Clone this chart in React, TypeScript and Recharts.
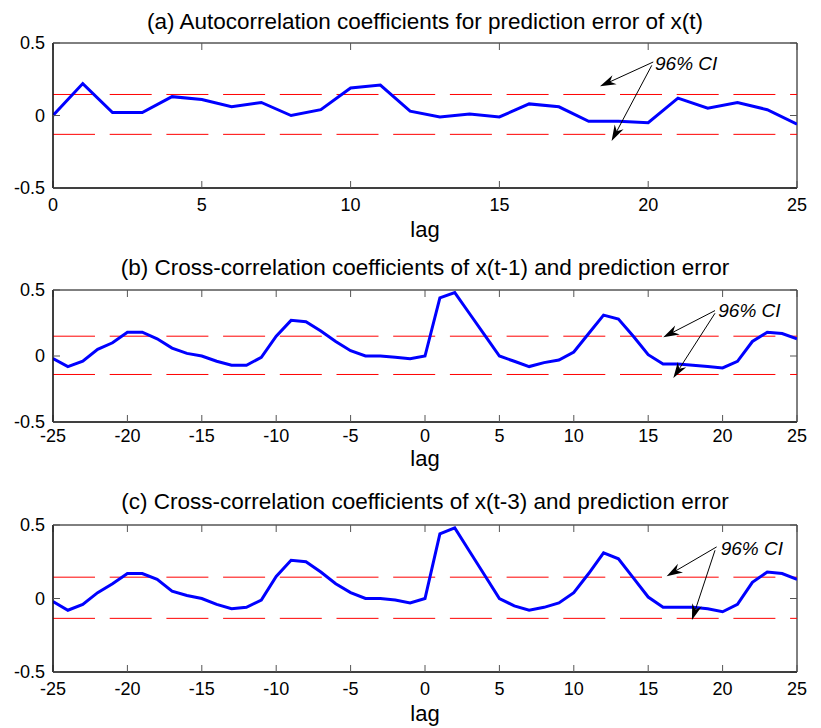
import { LineChart, Line, XAxis, YAxis, ReferenceLine, ReferenceDot, ReferenceArea } from "recharts";

// lags
const lagsA = [0, 1, 2, 3, 4, 5, 6, 7, 8, 9, 10, 11, 12, 13, 14, 15, 16, 17, 18, 19, 20, 21, 22, 23, 24, 25];
const lagsBC = [
  -25, -24, -23, -22, -21, -20, -19, -18, -17, -16, -15, -14, -13, -12, -11, -10, -9, -8, -7, -6, -5, -4, -3, -2, -1,
  0, 1, 2, 3, 4, 5, 6, 7, 8, 9, 10, 11, 12, 13, 14, 15, 16, 17, 18, 19, 20, 21, 22, 23, 24, 25,
];

// (a) autocorrelation of prediction error
const acfA = [
  0, 0.22, 0.02, 0.02, 0.13, 0.11, 0.06, 0.09, 0, 0.04, 0.19, 0.21, 0.03, -0.01, 0.01, -0.01, 0.08, 0.06, -0.04, -0.04,
  -0.05, 0.12, 0.05, 0.09, 0.04, -0.06,
];
// (b) cross-correlation x(t-1) vs error
const ccfB = [
  -0.02, -0.08, -0.04, 0.05, 0.1, 0.18, 0.18, 0.13, 0.06, 0.02, 0, -0.04, -0.07, -0.07, -0.01, 0.15, 0.27, 0.26, 0.19,
  0.11, 0.04, 0, 0, -0.01, -0.02, 0, 0.44, 0.48, 0.32, 0.16, 0, -0.04, -0.08, -0.05, -0.03, 0.03, 0.17, 0.31, 0.28, 0.15,
  0.01, -0.06, -0.06, -0.07, -0.08, -0.09, -0.04, 0.11, 0.18, 0.17, 0.13,
];
// (c) cross-correlation x(t-3) vs error
const ccfC = [
  -0.02, -0.08, -0.04, 0.04, 0.1, 0.17, 0.17, 0.13, 0.05, 0.02, 0, -0.04, -0.07, -0.06, -0.01, 0.15, 0.26, 0.25, 0.18,
  0.1, 0.04, 0, 0, -0.01, -0.03, 0, 0.44, 0.48, 0.32, 0.16, 0, -0.05, -0.08, -0.06, -0.03, 0.04, 0.17, 0.31, 0.27, 0.14,
  0.01, -0.06, -0.06, -0.06, -0.07, -0.09, -0.04, 0.11, 0.18, 0.17, 0.13,
];

// confidence bounds [upper, lower]
const ciA = [0.145, -0.13];
const ciB = [0.15, -0.14];
const ciC = [0.145, -0.135];

const xTicksA = [0, 5, 10, 15, 20, 25];
const xTicksBC = [-25, -20, -15, -10, -5, 0, 5, 10, 15, 20, 25];
const yTicks = [-0.5, 0, 0.5];

const titles = [
  "(a) Autocorrelation coefficients for prediction error of x(t)",
  "(b) Cross-correlation coefficients of x(t-1) and prediction error",
  "(c) Cross-correlation coefficients of x(t-3) and prediction error",
];
const ciLabel = "96% CI";

// annotation arrows in data units: [fromLag, fromValue, toLag, toValue]
const arrowsA = [
  [20.17, 0.369, 18.38, 0.201],
  [20.12, 0.346, 18.77, -0.176],
];
const arrowsB = [
  [19.49, 0.344, 16.01, 0.142],
  [19.49, 0.324, 16.69, -0.167],
];
const arrowsC = [
  [19.6, 0.351, 16.24, 0.152],
  [19.49, 0.328, 17.94, -0.147],
];
const labelA = [20.23, 0.362];
const labelB = [19.71, 0.349];
const labelC = [19.87, 0.34];

const TICK_LEN = 7;
const TICK_COLOR = "#555";

function ArrowShape(props: any) {
  const { x1, y1, x2, y2 } = props;
  const ang = Math.atan2(y2 - y1, x2 - x1);
  const c = Math.cos(ang);
  const s = Math.sin(ang);
  const pt = (u: number, v: number) => `${x2 + u * c - v * s},${y2 + u * s + v * c}`;
  return (
    <g>
      <line x1={x1} y1={y1} x2={x2 - 11 * c} y2={y2 - 11 * s} stroke="#000" strokeWidth={1} />
      <path d={`M${pt(0, 0)} L${pt(-16, -5)} L${pt(-11, 0)} L${pt(-16, 5)} Z`} fill="#000" />
    </g>
  );
}

// inward tick on the top edge of the box
function TopTick(props: any) {
  const { x1, y1, y2 } = props;
  const yt = Math.min(y1, y2);
  return <line x1={x1} x2={x1} y1={yt} y2={yt + TICK_LEN} stroke={TICK_COLOR} strokeWidth={1} />;
}

// inward tick on the right edge of the box
function RightTick(props: any) {
  const { x1, x2, y1 } = props;
  const xr = Math.max(x1, x2);
  return <line x1={xr} x2={xr - TICK_LEN} y1={y1} y2={y1} stroke={TICK_COLOR} strokeWidth={1} />;
}

interface PanelProps {
  top: number;
  marginTop: number;
  plotH: number;
  axisH: number;
  marginBottom: number;
  tickGap: number;
  titleOffset: number;
  title: string;
  lags: number[];
  values: number[];
  xTicks: number[];
  ci: number[];
  arrows: number[][];
  label: number[];
}

function Panel(p: PanelProps) {
  const data = p.lags.map((lag, i) => ({ lag, r: p.values[i] }));
  const x0 = p.xTicks[0];
  const x1 = p.xTicks[p.xTicks.length - 1];
  const height = p.marginTop + p.plotH + p.axisH + p.marginBottom;
  return (
    <div style={{ position: "absolute", left: 0, top: p.top }}>
      <LineChart
        width={821}
        height={height}
        data={data}
        margin={{ top: p.marginTop, right: 24, bottom: p.marginBottom, left: 0 }}
      >
        <XAxis
          dataKey="lag"
          type="number"
          domain={[x0, x1]}
          ticks={p.xTicks}
          allowDataOverflow
          height={p.axisH}
          tickSize={-TICK_LEN}
          tickMargin={p.tickGap}
          tickLine={{ stroke: TICK_COLOR }}
          axisLine={{ stroke: "#000" }}
          tick={{ fontSize: 18, fill: "#000" }}
          label={{ value: "lag", position: "insideBottom", offset: 0, fontSize: 22, fill: "#000" }}
        />
        <YAxis
          type="number"
          domain={[-0.5, 0.5]}
          ticks={yTicks}
          allowDataOverflow
          width={53}
          tickSize={-TICK_LEN}
          tickMargin={15}
          tickLine={{ stroke: TICK_COLOR }}
          axisLine={{ stroke: "#000" }}
          tick={{ fontSize: 18, fill: "#000" }}
        />
        {p.ci.map((v) => (
          <ReferenceLine key={`ci${v}`} y={v} stroke="#ff0000" strokeWidth={1} strokeDasharray="42 14.7" />
        ))}
        {p.xTicks.map((t) => (
          <ReferenceLine key={`tx${t}`} x={t} shape={TopTick} />
        ))}
        {yTicks.map((t) => (
          <ReferenceLine key={`ty${t}`} y={t} shape={RightTick} />
        ))}
        <Line
          type="linear"
          dataKey="r"
          stroke="#0000ff"
          strokeWidth={3}
          dot={false}
          activeDot={false}
          isAnimationActive={false}
        />
        <ReferenceArea
          x1={x0}
          x2={x1}
          y1={-0.5}
          y2={0.5}
          fill="none"
          fillOpacity={0}
          stroke="#000"
          strokeWidth={1}
          label={{ value: p.title, position: "top", offset: p.titleOffset, fontSize: 22.5, fill: "#000" }}
        />
        {p.arrows.map((a, i) => (
          <ReferenceLine
            key={`ar${i}`}
            segment={[
              { x: a[0], y: a[1] },
              { x: a[2], y: a[3] },
            ]}
            shape={ArrowShape}
          />
        ))}
        <ReferenceDot
          x={p.label[0]}
          y={p.label[1]}
          r={0}
          fill="none"
          stroke="none"
          label={{ value: ciLabel, position: "right", offset: 0, fontSize: 19, fontStyle: "italic", fill: "#000" }}
        />
      </LineChart>
    </div>
  );
}

export default function App() {
  return (
    <div
      style={{
        position: "absolute",
        left: 0,
        top: 0,
        width: 821,
        height: 728,
        background: "#fff",
        fontFamily: "'Liberation Sans', Arial, sans-serif",
      }}
    >
      <Panel
        top={0}
        marginTop={43}
        plotH={145}
        axisH={49}
        marginBottom={8}
        tickGap={17.5}
        titleOffset={14}
        title={titles[0]}
        lags={lagsA}
        values={acfA}
        xTicks={xTicksA}
        ci={ciA}
        arrows={arrowsA}
        label={labelA}
      />
      <Panel
        top={245}
        marginTop={45}
        plotH={132}
        axisH={44}
        marginBottom={8}
        tickGap={14.7}
        titleOffset={15}
        title={titles[1]}
        lags={lagsBC}
        values={ccfB}
        xTicks={xTicksBC}
        ci={ciB}
        arrows={arrowsB}
        label={labelB}
      />
      <Panel
        top={474}
        marginTop={51}
        plotH={147}
        axisH={49}
        marginBottom={5}
        tickGap={17.7}
        titleOffset={16}
        title={titles[2]}
        lags={lagsBC}
        values={ccfC}
        xTicks={xTicksBC}
        ci={ciC}
        arrows={arrowsC}
        label={labelC}
      />
    </div>
  );
}
